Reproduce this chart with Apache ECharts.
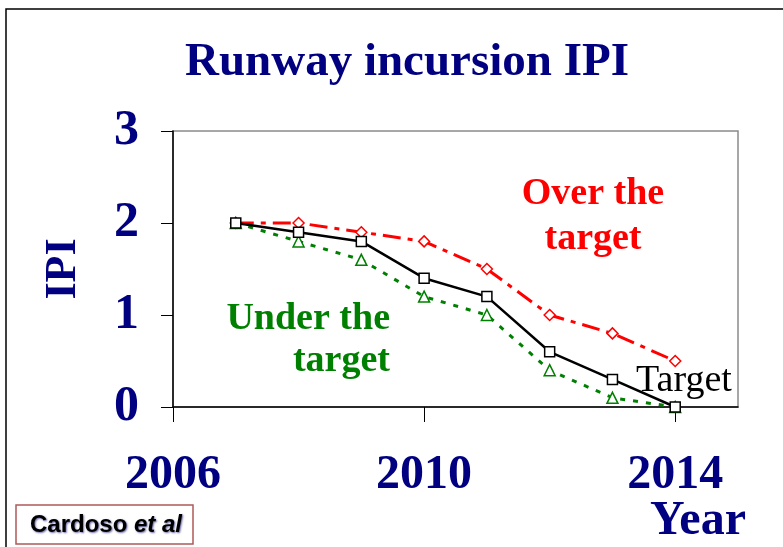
<!DOCTYPE html>
<html>
<head>
<meta charset="utf-8">
<title>Runway incursion IPI</title>
<script src="https://cdn.jsdelivr.net/npm/echarts@6/dist/echarts.min.js"></script>
<style>
  html, body { margin: 0; padding: 0; background: #fff; }
  #myChart { width: 783px; height: 547px; }
</style>
</head>
<body>
<div id="myChart"></div>
<script>
// axis categories (years) and the values per series
var years = ['2006', '2007', '2008', '2009', '2010', '2011', '2012', '2013', '2014', '2015'];
var pointYears = ['2007', '2008', '2009', '2010', '2011', '2012', '2013', '2014'];
var targetValues = [2.0, 1.9, 1.8, 1.4, 1.2, 0.6, 0.3, 0.0];
var overValues   = [2.0, 2.0, 1.9, 1.8, 1.5, 1.0, 0.8, 0.5];
var underValues  = [2.0, 1.8, 1.6, 1.2, 1.0, 0.4, 0.1, 0.0];
var yTicks = [0, 1, 2, 3];

var navy = '#000080';
var serif = '"Liberation Serif", "Times New Roman", serif';
var sans = '"Liberation Sans", Arial, sans-serif';

function pairs(vals) {
    var d = [];
    for (var i = 0; i < pointYears.length; i++) {
        d.push([pointYears[i], vals[i]]);
    }
    return d;
}

var myChart = echarts.init(document.getElementById('myChart'));

var option = {
    backgroundColor: '#fff',
    animation: false,
    title: {
        text: 'Runway incursion IPI',
        left: 402,
        top: 34,
        textAlign: 'center',
        textStyle: { fontFamily: serif, fontWeight: 'bold', fontSize: 47, color: navy }
    },
    grid: {
        left: 173, right: 45, top: 131, bottom: 140,
        outerBoundsMode: 'none',
        containLabel: false,
        show: true, borderColor: '#8a8a8a', borderWidth: 1.5, backgroundColor: '#fff'
    },
    xAxis: {
        type: 'category',
        data: years,
        boundaryGap: false,
        axisLine: { lineStyle: { color: '#000', width: 1.5 } },
        axisTick: { interval: 3, length: 15, lineStyle: { color: '#000', width: 1 } },
        axisLabel: {
            interval: 3, margin: 45,
            fontFamily: serif, fontWeight: 'bold', fontSize: 48, lineHeight: 48, color: navy
        },
        splitLine: { show: false }
    },
    yAxis: {
        type: 'value',
        min: yTicks[0], max: yTicks[yTicks.length - 1], interval: 1,
        name: 'IPI',
        nameLocation: 'middle',
        nameGap: 87,
        nameRotate: 90,
        nameTextStyle: { fontFamily: serif, fontWeight: 'bold', fontSize: 44, color: navy },
        axisLine: { show: true, lineStyle: { color: '#000', width: 1.5 } },
        axisTick: { show: true, length: 12, lineStyle: { color: '#000', width: 1 } },
        axisLabel: {
            margin: 34,
            fontFamily: serif, fontWeight: 'bold', fontSize: 50, color: navy
        },
        splitLine: { show: false }
    },
    series: [
        {
            name: 'Over the target',
            type: 'line',
            data: pairs(overValues),
            symbol: 'diamond',
            symbolSize: 11,
            itemStyle: { color: '#fff', borderColor: '#ff0000', borderWidth: 1.5 },
            lineStyle: { color: '#ff0000', width: 3, type: [18, 7, 5, 7] },
            z: 3
        },
        {
            name: 'Under the target',
            type: 'line',
            data: pairs(underValues),
            symbol: 'triangle',
            symbolSize: 11,
            itemStyle: { color: '#fff', borderColor: '#008000', borderWidth: 1.5 },
            lineStyle: { color: '#008000', width: 3, type: [5, 8] },
            z: 3
        },
        {
            name: 'Target',
            type: 'line',
            data: pairs(targetValues),
            symbol: 'rect',
            symbolSize: 10,
            itemStyle: { color: '#fff', borderColor: '#000', borderWidth: 1.5 },
            lineStyle: { color: '#000', width: 2.5, type: 'solid' },
            z: 4
        }
    ],
    graphic: [
        {
            type: 'rect',
            shape: { x: 6, y: 9, width: 800, height: 600 },
            style: { fill: 'none', stroke: '#000', lineWidth: 1.5 },
            silent: true, z: -10
        },
        {
            // x axis title
            type: 'text',
            x: 650, y: 498,
            style: {
                text: 'Year', fontFamily: serif, fontWeight: 'bold', fontSize: 48, fill: navy, align: 'left'
            },
            z: 10
        },
        {
            type: 'text',
            x: 593, y: 172,
            style: {
                text: 'Over the\ntarget', fontFamily: serif, fontWeight: 'bold', fontSize: 38,
                lineHeight: 45, fill: '#ff0000', align: 'center'
            },
            z: 10
        },
        {
            type: 'text',
            x: 390, y: 298,
            style: {
                text: 'Under the\ntarget', fontFamily: serif, fontWeight: 'bold', fontSize: 38,
                lineHeight: 42, fill: '#008000', align: 'right'
            },
            z: 10
        },
        {
            type: 'text',
            x: 636, y: 362,
            style: {
                text: 'Target', fontFamily: serif, fontSize: 38, fill: '#000', align: 'left'
            },
            z: 10
        },
        {
            type: 'rect',
            shape: { x: 16, y: 505, width: 177, height: 39 },
            style: { fill: '#fff', stroke: '#b05a5a', lineWidth: 1.5 },
            z: 10
        },
        {
            type: 'text',
            x: 106, y: 525,
            style: {
                text: '{n|Cardoso }{i|et al}',
                align: 'center', verticalAlign: 'middle',
                rich: {
                    n: { fontFamily: sans, fontWeight: 'bold', fontSize: 24,
                         color: '#00005a', textShadowColor: '#6a6aa8', textShadowBlur: 2, textShadowOffsetX: 1, textShadowOffsetY: 1 },
                    i: { fontFamily: sans, fontWeight: 'bold', fontStyle: 'italic', fontSize: 24,
                         color: '#00005a', textShadowColor: '#6a6aa8', textShadowBlur: 2, textShadowOffsetX: 1, textShadowOffsetY: 1 }
                }
            },
            z: 11
        }
    ]
};

myChart.setOption(option);
</script>
</body>
</html>
